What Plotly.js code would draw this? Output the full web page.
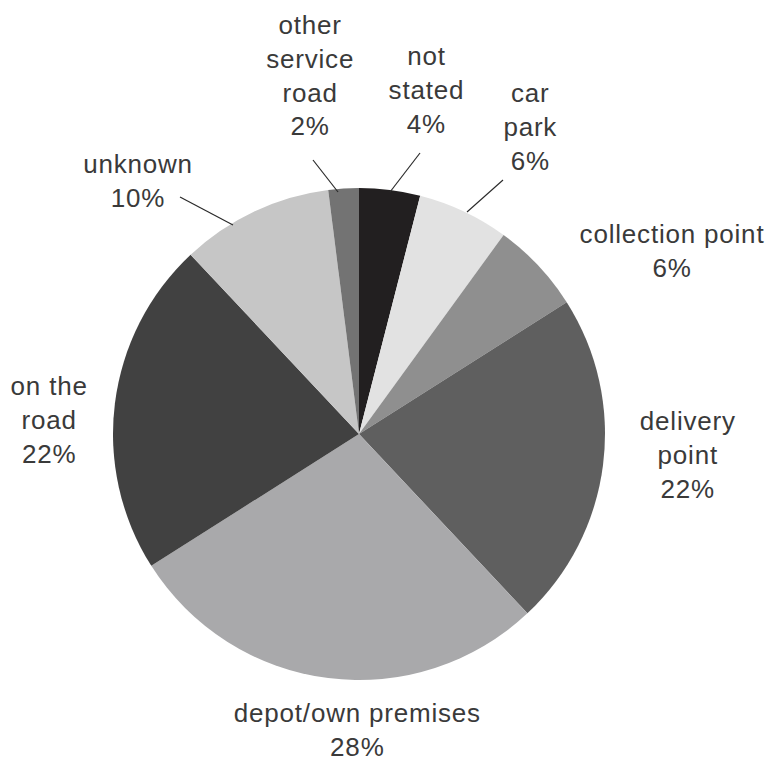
<!DOCTYPE html>
<html>
<head>
<meta charset="utf-8">
<script src="https://cdn.plot.ly/plotly-3.0.1.min.js"></script>
<style>
  html, body { margin: 0; padding: 0; background: #ffffff; }
  #chart { width: 768px; height: 764px; }
  #chart .annotation-text { letter-spacing: 0.8px; }
</style>
</head>
<body>
<div id="chart"></div>
<script>
// Data (clockwise from 12 o'clock)
const categories = ["not stated", "car park", "collection point", "delivery point",
                    "depot/own premises", "on the road", "unknown", "other service road"];
const shares = [4, 6, 6, 22, 28, 22, 10, 2];
const labelTexts = ["not<br>stated<br>4%", "car<br>park<br>6%", "collection point<br>6%",
                    "delivery<br>point<br>22%", "depot/own premises<br>28%", "on the<br>road<br>22%",
                    "unknown<br>10%", "other<br>service<br>road<br>2%"];
const sliceColors = ["#221f20", "#e2e2e2", "#8f8f8f", "#5f5f5f", "#a9a9ab", "#414141", "#c6c6c6", "#737373"];

const W = 768, H = 764;
const px = x => x / W;
const py = y => 1 - y / H;

// label block centers (pixels)
const labelPos = [[426, 90], [531, 127], [672, 251], [688, 455], [357, 730], [49, 420], [138, 181], [310, 75]];
// leader lines (pixels): [x0, y0, x1, y1] or null
const leaders = [[420, 153, 390, 192], [503, 180, 467, 212], null, null, null, null,
                 [180, 197, 233, 225], [313, 160, 338, 192]];

const cx = 359, cy = 434, r = 246;

const trace = {
  type: "pie",
  labels: categories,
  values: shares,
  sort: false,
  direction: "clockwise",
  rotation: 0,
  textinfo: "none",
  hoverinfo: "label+percent",
  marker: { colors: sliceColors, line: { width: 0 } },
  domain: { x: [px(cx - r), px(cx + r)], y: [py(cy + r), py(cy - r)] },
  showlegend: false
};

const annotations = categories.map((c, i) => ({
  xref: "paper", yref: "paper",
  x: px(labelPos[i][0]), y: py(labelPos[i][1]),
  xanchor: "center", yanchor: "middle",
  text: labelTexts[i],
  showarrow: false,
  align: "center",
  font: { family: "Liberation Sans, Arial, sans-serif", size: 26, color: "#3a3a3a" }
}));

const shapes = leaders.filter(l => l).map(l => ({
  type: "line", xref: "paper", yref: "paper",
  x0: px(l[0]), y0: py(l[1]), x1: px(l[2]), y1: py(l[3]),
  line: { color: "#2a2a2a", width: 1.2 }
}));

const layout = {
  width: W, height: H,
  margin: { l: 0, r: 0, t: 0, b: 0 },
  paper_bgcolor: "#ffffff",
  plot_bgcolor: "#ffffff",
  annotations: annotations,
  shapes: shapes
};

Plotly.newPlot("chart", [trace], layout, { displayModeBar: false, staticPlot: true });
</script>
</body>
</html>
